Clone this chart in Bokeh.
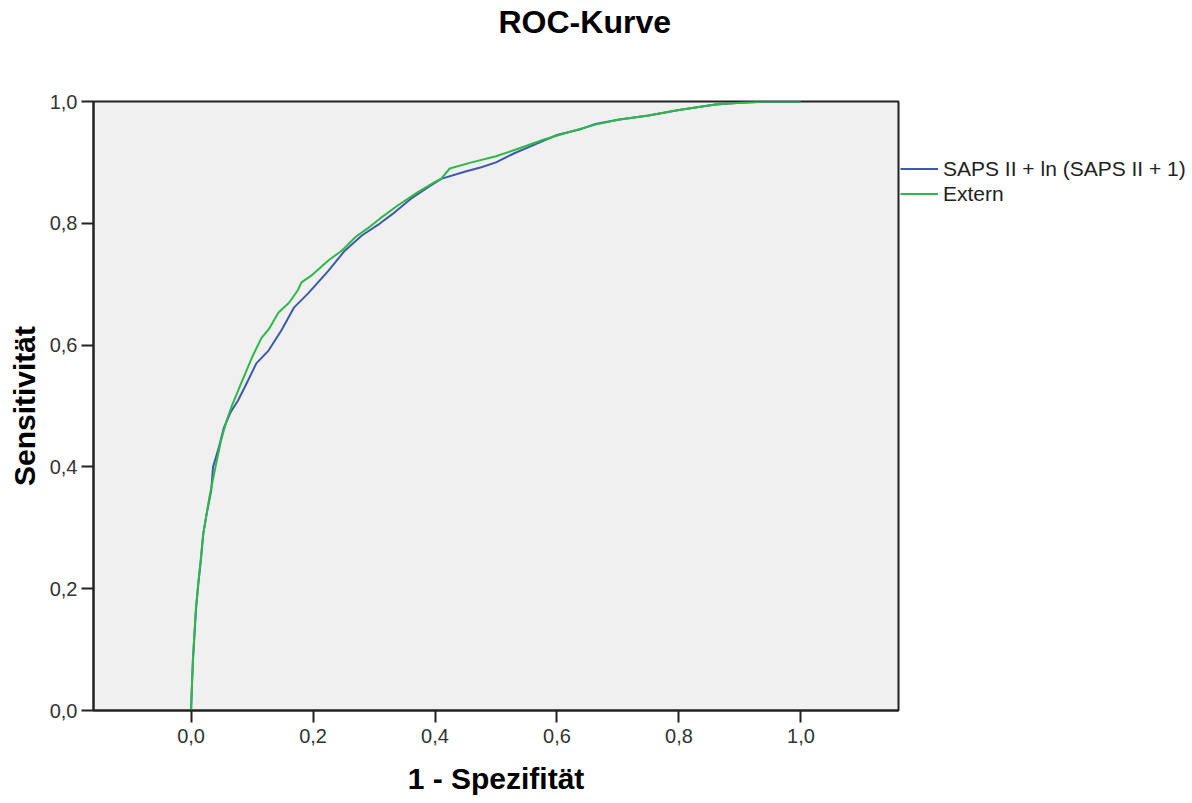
from bokeh.plotting import figure
from bokeh.layouts import row
from bokeh.models import Range1d, FixedTicker, Legend, LegendItem, Title
from bokeh.embed import file_html
from bokeh.resources import INLINE

# ---- data ----
saps_fpr = [0.0, 0.001, 0.003, 0.008, 0.012, 0.016, 0.02, 0.025, 0.033, 0.036, 0.045, 0.054,
            0.065, 0.077, 0.09, 0.107, 0.127, 0.148, 0.169, 0.192, 0.225, 0.252, 0.28,
            0.31, 0.33, 0.36, 0.39, 0.41, 0.45, 0.476, 0.50, 0.53, 0.57, 0.60, 0.64,
            0.663, 0.70, 0.75, 0.80, 0.86, 0.90, 0.95, 1.0]
saps_tpr = [0.0, 0.03, 0.08, 0.165, 0.21, 0.246, 0.29, 0.32, 0.361, 0.40, 0.43, 0.465,
            0.49, 0.509, 0.535, 0.570, 0.591, 0.624, 0.662, 0.685, 0.722, 0.755, 0.78,
            0.80, 0.815, 0.84, 0.86, 0.873, 0.885, 0.892, 0.90, 0.915, 0.932, 0.945, 0.955,
            0.963, 0.97, 0.977, 0.986, 0.995, 0.998, 1.0, 1.0]

extern_fpr = [0.0, 0.001, 0.003, 0.008, 0.016, 0.02, 0.025, 0.03, 0.04, 0.049, 0.058, 0.066,
              0.082, 0.10, 0.115, 0.128, 0.143, 0.161, 0.175, 0.181, 0.197, 0.225, 0.247,
              0.27, 0.29, 0.31, 0.34, 0.37, 0.40, 0.41, 0.424, 0.46, 0.50, 0.535, 0.58,
              0.62, 0.663, 0.70, 0.75, 0.80, 0.86, 0.90, 0.95, 1.0]
extern_tpr = [0.0, 0.03, 0.085, 0.17, 0.25, 0.29, 0.32, 0.35, 0.40, 0.443, 0.475, 0.498,
              0.537, 0.58, 0.611, 0.627, 0.653, 0.67, 0.69, 0.703, 0.714, 0.739, 0.755,
              0.778, 0.792, 0.808, 0.83, 0.85, 0.868, 0.873, 0.89, 0.90, 0.91, 0.922, 0.938,
              0.95, 0.962, 0.97, 0.977, 0.986, 0.995, 0.998, 1.0, 1.0]

series_names = ["SAPS II + ln (SAPS II + 1)", "Extern"]
series_colors = ["#3E58AC", "#2EB848"]

x_ticks = [0.0, 0.2, 0.4, 0.6, 0.8, 1.0]
x_tick_labels = ["0,0", "0,2", "0,4", "0,6", "0,8", "1,0"]
y_ticks = [0.0, 0.2, 0.4, 0.6, 0.8, 1.0]
y_tick_labels = ["0,0", "0,2", "0,4", "0,6", "0,8", "1,0"]

title_text = "ROC-Kurve"
x_label = "1 - Spezifität"
y_label = "Sensitivität"

FONT = "Liberation Sans"
H = 802

# ---------------- main chart ----------------
p = figure(width=900, height=H, output_backend="svg", toolbar_location=None,
           x_range=Range1d(-0.16, 1.16), y_range=Range1d(0.0, 1.0),
           min_border_left=93, min_border_right=2, min_border_top=101, min_border_bottom=92)

p.background_fill_color = "#F0F0F0"
p.border_fill_color = "white"
p.outline_line_color = "#222222"
p.outline_line_width = 2
p.xgrid.visible = False
p.ygrid.visible = False

for ax, ticks, labels in ((p.xaxis[0], x_ticks, x_tick_labels), (p.yaxis[0], y_ticks, y_tick_labels)):
    ax.ticker = FixedTicker(ticks=ticks)
    ax.major_label_overrides = {t: l for t, l in zip(ticks, labels)}
    ax.axis_line_color = "#222222"
    ax.axis_line_width = 2
    ax.major_tick_line_color = "#222222"
    ax.major_tick_line_width = 2
    ax.major_tick_out = 12
    ax.major_tick_in = 0
    ax.minor_tick_line_color = None
    ax.major_label_text_font = FONT
    ax.major_label_text_font_size = "20px"
    ax.major_label_text_color = "#333333"
    ax.axis_label_text_font = FONT
    ax.axis_label_text_font_size = "30px"
    ax.axis_label_text_font_style = "bold"
    ax.axis_label_text_color = "black"

p.xaxis[0].axis_label = x_label
p.yaxis[0].axis_label = y_label
p.xaxis[0].major_label_standoff = 6
p.xaxis[0].axis_label_standoff = 16
p.yaxis[0].major_label_standoff = 4
p.yaxis[0].axis_label_standoff = 6

series = [(saps_fpr, saps_tpr), (extern_fpr, extern_tpr)]
for (xs, ys), color in zip(series, series_colors):
    p.line(xs, ys, line_color=color, line_width=2, line_join="round")

# spacer (nearest the plot) then the real title above it
p.add_layout(Title(text=" ", text_font_size="6px", standoff=54), "above")
p.add_layout(Title(text=title_text, text_font=FONT, text_font_size="32px",
                   text_font_style="bold", text_color="black",
                   align="left", offset=405, standoff=0), "above")

# ---------------- legend panel (frame aligned with the main chart) ----------------
# its ranges lie outside the data so the series lines themselves stay out of view
q = figure(width=290, height=H, output_backend="svg", toolbar_location=None,
           x_range=Range1d(10, 11), y_range=Range1d(10, 11),
           x_axis_location=None, y_axis_location=None,
           min_border_left=0, min_border_right=0, min_border_top=101, min_border_bottom=92)
q.outline_line_color = None
q.background_fill_color = "white"
q.border_fill_color = "white"
q.xgrid.visible = False
q.ygrid.visible = False

items = []
for (xs, ys), name, color in zip(series, series_names, series_colors):
    rr = q.line(xs, ys, line_color=color, line_width=2)
    items.append(LegendItem(label=name, renderers=[rr]))

legend = Legend(items=items, location=(0, 504), orientation="vertical",
                label_text_font=FONT, label_text_font_size="21px", label_text_color="#222222",
                glyph_width=38, glyph_height=25, label_height=25, label_standoff=5,
                padding=0, margin=0, spacing=0,
                border_line_color=None, background_fill_alpha=0)
q.add_layout(legend, "center")

layout = row(p, q)
open("out.html", "w").write(file_html(layout, INLINE))
